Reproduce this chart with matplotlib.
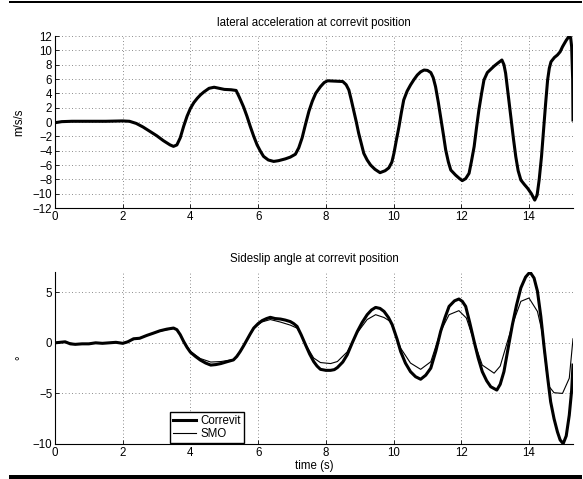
import matplotlib
matplotlib.use("Agg")
import matplotlib.pyplot as plt
from matplotlib.patches import Rectangle

plt.rcParams['font.family'] = ['Liberation Sans', 'DejaVu Sans']
FS = 8.3

# ---- lateral acceleration (Correvit) ----
acc_t = [0.0, 0.2, 0.5, 1.0, 1.5, 2.0, 2.2, 2.4, 2.6, 2.8, 3.0, 3.2, 3.4, 3.5, 3.6, 3.7, 3.8, 3.9,
         4.0, 4.1, 4.2, 4.3, 4.4, 4.55, 4.7, 4.85, 5.0, 5.2, 5.35, 5.45, 5.57, 5.67, 5.77, 5.87,
         5.97, 6.07, 6.16, 6.3, 6.46, 6.6, 6.8, 6.95, 7.1, 7.2, 7.3, 7.4, 7.5, 7.6, 7.7, 7.84,
         7.95, 8.05, 8.3, 8.5, 8.6, 8.68, 8.75, 8.82, 8.9, 8.97, 9.05, 9.12, 9.22, 9.32, 9.45,
         9.6, 9.75, 9.86, 9.95, 10.01, 10.08, 10.16, 10.23, 10.3, 10.4, 10.5, 10.6, 10.7, 10.8,
         10.9, 11.0, 11.1, 11.17, 11.24, 11.32, 11.39, 11.47, 11.54, 11.62, 11.69, 11.83, 11.95,
         12.03, 12.13, 12.23, 12.3, 12.38, 12.45, 12.52, 12.6, 12.67, 12.77, 12.87, 12.97, 13.07,
         13.2, 13.26, 13.31, 13.38, 13.46, 13.54, 13.61, 13.68, 13.76, 13.86, 13.96, 14.07, 14.17,
         14.24, 14.3, 14.37, 14.43, 14.49, 14.55, 14.6, 14.65, 14.75, 14.84, 14.92, 14.99, 15.1,
         15.19, 15.23, 15.26, 15.29, 15.3]
acc_val = [-0.1, 0.05, 0.1, 0.1, 0.1, 0.15, 0.1, -0.2, -0.7, -1.3, -1.9, -2.6, -3.2, -3.4, -3.2,
           -2.2, -0.6, 0.8, 1.9, 2.7, 3.3, 3.8, 4.2, 4.7, 4.85, 4.7, 4.55, 4.5, 4.4, 3.4, 2.1, 0.8,
           -0.65, -2.0, -3.2, -4.1, -4.8, -5.3, -5.5, -5.4, -5.15, -4.9, -4.5, -3.6, -2.2, -0.3,
           1.5, 2.9, 4.0, 4.93, 5.5, 5.75, 5.7, 5.65, 5.2, 4.46, 3.1, 1.67, 0.0, -1.58, -3.1,
           -4.37, -5.3, -6.0, -6.6, -7.07, -6.8, -6.4, -5.6, -4.4, -2.6, -0.65, 1.3, 3.07, 4.3,
           5.16, 5.9, 6.55, 7.0, 7.25, 7.2, 6.9, 6.2, 4.93, 2.8, 0.74, -1.7, -3.9, -5.6, -6.7,
           -7.4, -7.9, -8.18, -7.9, -7.16, -5.5, -3.44, -0.8, 1.67, 4.0, 5.86, 6.9, 7.35, 7.8,
           8.18, 8.65, 8.0, 6.8, 4.0, 0.74, -2.3, -4.84, -6.8, -8.1, -8.7, -9.25, -10.0, -10.9,
           -10.2, -8.1, -4.8, -1.1, 2.5, 5.86, 7.5, 8.4, 9.0, 9.35, 9.8, 10.5, 11.4, 12.0, 11.8,
           10.5, 6.0, 0.28]

# ---- sideslip angle ----
cor_t = [0.0, 0.15, 0.3, 0.45, 0.6, 0.8, 1.0, 1.2, 1.4, 1.6, 1.8, 2.0, 2.15, 2.32, 2.5, 2.71, 2.9,
         3.1, 3.3, 3.5, 3.6, 3.7, 3.8, 3.9, 4.0, 4.15, 4.29, 4.45, 4.6, 4.75, 4.9, 5.08, 5.27,
         5.37, 5.47, 5.57, 5.67, 5.77, 5.87, 6.0, 6.12, 6.25, 6.36, 6.5, 6.66, 6.8, 6.95, 7.05,
         7.15, 7.27, 7.4, 7.52, 7.64, 7.74, 7.84, 8.0, 8.14, 8.25, 8.34, 8.5, 8.63, 8.78, 8.93,
         9.07, 9.22, 9.35, 9.47, 9.6, 9.72, 9.85, 9.96, 10.1, 10.21, 10.35, 10.5, 10.65, 10.8,
         10.95, 11.1, 11.25, 11.39, 11.52, 11.64, 11.8, 11.93, 12.03, 12.13, 12.25, 12.38, 12.5,
         12.62, 12.75, 12.87, 13.05, 13.15, 13.26, 13.38, 13.51, 13.63, 13.76, 13.9, 14.03,
         14.15, 14.25, 14.35, 14.45, 14.55, 14.64, 14.74, 14.84, 14.92, 15.01, 15.1, 15.19,
         15.26, 15.3]
cor_val = [0.0, 0.05, 0.1, -0.1, -0.15, -0.1, -0.1, 0.0, -0.05, 0.0, 0.05, -0.05, 0.1, 0.4, 0.45,
           0.73, 0.95, 1.19, 1.35, 1.46, 1.3, 0.8, 0.13, -0.45, -0.93, -1.35, -1.7, -2.0, -2.2,
           -2.15, -2.05, -1.87, -1.69, -1.35, -0.86, -0.3, 0.3, 0.9, 1.46, 1.9, 2.2, 2.4, 2.52,
           2.4, 2.35, 2.25, 2.1, 1.9, 1.62, 0.8, -0.2, -1.1, -1.85, -2.3, -2.62, -2.72, -2.72,
           -2.65, -2.45, -1.9, -1.19, 0.0, 1.12, 2.0, 2.78, 3.25, 3.5, 3.4, 3.1, 2.5, 1.79, 0.4,
           -0.86, -2.0, -2.85, -3.35, -3.6, -3.2, -2.5, -0.8, 1.12, 2.5, 3.6, 4.15, 4.33, 4.1,
           3.6, 2.0, 0.13, -1.5, -2.85, -3.75, -4.34, -4.67, -4.1, -2.85, -0.6, 1.79, 3.7, 5.43,
           6.5, 7.0, 6.4, 5.1, 2.6, -0.53, -3.4, -5.83, -7.5, -8.8, -9.6, -9.97, -9.2, -7.15,
           -4.7, -2.2]

smo_t = [0.0, 0.3, 0.6, 1.0, 1.4, 1.8, 2.0, 2.3, 2.7, 3.1, 3.5, 3.6, 3.7, 3.8, 4.0, 4.29, 4.6,
         4.9, 5.27, 5.47, 5.67, 5.87, 6.1, 6.36, 6.66, 6.95, 7.15, 7.27, 7.4, 7.64, 7.84, 8.14,
         8.34, 8.63, 8.93, 9.22, 9.47, 9.72, 9.91, 10.21, 10.5, 10.8, 11.1, 11.39, 11.64, 11.93,
         12.15, 12.38, 12.62, 12.97, 13.15, 13.51, 13.76, 14.0, 14.25, 14.38, 14.45, 14.52,
         14.6, 14.74, 14.99, 15.19, 15.3]
smo_val = [0.0, 0.08, -0.12, -0.08, -0.03, 0.03, -0.03, 0.3, 0.7, 1.15, 1.42, 1.28, 0.8, 0.15,
           -0.85, -1.55, -1.9, -1.85, -1.65, -0.85, 0.3, 1.4, 2.05, 2.3, 2.05, 1.75, 1.45, 0.8,
           -0.15, -1.5, -1.95, -2.05, -1.85, -0.9, 1.0, 2.3, 2.78, 2.5, 2.1, -0.53, -2.0, -2.62,
           -1.87, 1.12, 2.78, 3.18, 2.45, 0.13, -2.2, -3.0, -2.3, 1.79, 4.1, 4.43, 3.1, 1.2,
           -0.86, -2.9, -4.34, -4.93, -5.0, -3.5, 0.4]

xticks = [0, 2, 4, 6, 8, 10, 12, 14]
acc_yticks = [-12, -10, -8, -6, -4, -2, 0, 2, 4, 6, 8, 10, 12]
beta_yticks = [-10, -5, 0, 5]

W, H = 583, 479
fig = plt.figure(figsize=(W / 100, H / 100), dpi=100)


def style(ax):
    ax.spines['top'].set_visible(False)
    ax.spines['right'].set_visible(False)
    for s in ('left', 'bottom'):
        ax.spines[s].set_linewidth(0.8)
    ax.tick_params(direction='in', length=3, width=0.6, labelsize=FS, pad=2,
                   top=False, right=False)
    ax.grid(True, color='0.4', linestyle=(0, (1, 3)), linewidth=0.6)
    ax.set_xlim(0, 15.3)
    ax.set_xticks(xticks)


ax1 = fig.add_axes([55 / W, 1 - 208 / H, 518 / W, 172 / H])
ax1.plot(acc_t, acc_val, color='black', linewidth=2.2, solid_joinstyle='round')
style(ax1)
ax1.set_ylim(-12, 12)
ax1.set_yticks(acc_yticks)
ax1.set_title('lateral acceleration at correvit position', fontsize=FS, pad=7)
ax1.set_ylabel('m/s/s', fontsize=FS, labelpad=5)

ax2 = fig.add_axes([55 / W, 1 - 444 / H, 518 / W, 172 / H])
ax2.plot(cor_t, cor_val, color='black', linewidth=2.2, solid_joinstyle='round', label='Correvit')
ax2.plot(smo_t, smo_val, color='black', linewidth=0.8, solid_joinstyle='round', label='SMO')
style(ax2)
ax2.set_ylim(-10, 7)
ax2.set_yticks(beta_yticks)
ax2.set_title('Sideslip angle at correvit position', fontsize=FS, pad=7)
ax2.set_ylabel('°', fontsize=FS, labelpad=4)
ax2.set_xlabel('time (s)', fontsize=FS, labelpad=1)
leg = ax2.legend(loc='lower left', bbox_to_anchor=(0.222, 0.005), borderaxespad=0,
                 fontsize=FS, fancybox=False, edgecolor='black', framealpha=1,
                 handlelength=2.0, handletextpad=0.4, borderpad=0.25, labelspacing=0.1)
leg.get_frame().set_linewidth(1.0)

# black rules at top and bottom of the figure
fig.add_artist(Rectangle((9 / W, 1 - 3 / H), 573 / W, 2 / H, transform=fig.transFigure,
                         facecolor='black', edgecolor='none'))
fig.add_artist(Rectangle((9 / W, 0), 573 / W, 4 / H, transform=fig.transFigure,
                         facecolor='black', edgecolor='none'))

fig.savefig('out.png', dpi=100)
